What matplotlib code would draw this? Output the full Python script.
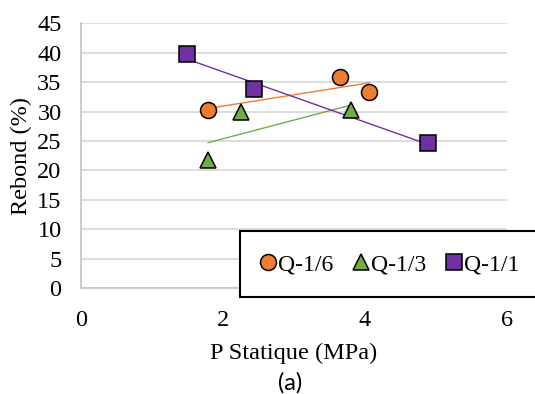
import matplotlib
matplotlib.use("Agg")
import matplotlib.pyplot as plt
import numpy as np
from matplotlib.patches import Rectangle

# données
x_16 = [1.79, 3.65, 4.06]
y_16 = [30.2, 35.9, 33.4]
x_13 = [1.79, 2.26, 3.80]
y_13 = [21.8, 30.0, 30.2]
x_11 = [1.49, 2.44, 4.89]
y_11 = [39.7, 33.8, 24.7]

labels = ['Q-1/6', 'Q-1/3', 'Q-1/1']
couleurs = ['#ED7D31', '#70AD47', '#7030A0']
marqueurs = ['o', '^', 's']
tailles = [11.5, 11.5, 11]

xticks = [0, 2, 4, 6]
yticks = list(range(0, 50, 5))

plt.rcParams['font.family'] = ['Liberation Serif', 'DejaVu Serif']

fig = plt.figure(figsize=(5.35, 3.94), dpi=100)
ax = fig.add_axes([81/535, 1-288/394, 426/535, (288-23.3)/394])

series = [(x_16, y_16), (x_13, y_13), (x_11, y_11)]
handles = []
for (xs, ys), lab, c, m, s in zip(series, labels, couleurs, marqueurs, tailles):
    h, = ax.plot(xs, ys, linestyle='none', marker=m, markersize=s,
                 markerfacecolor=c, markeredgecolor='black', markeredgewidth=1.1,
                 label=lab, zorder=4)
    handles.append(h)
    # courbe de tendance linéaire
    a, b = np.polyfit(xs, ys, 1)
    xx = np.array([min(xs), max(xs)])
    ax.plot(xx, a*xx + b, color=c, lw=1.0, zorder=3)

ax.set_xlim(0, 6)
ax.set_ylim(0, 45)
ax.set_xticks(xticks)
ax.set_yticks(yticks)
ax.tick_params(length=0, labelsize=17.5)
ax.tick_params(axis='y', pad=14)
ax.tick_params(axis='x', pad=16)
ax.grid(axis='y', color='#D9D9D9', lw=1.3)
ax.set_axisbelow(True)
for sp in ['top', 'right']:
    ax.spines[sp].set_visible(False)
for sp in ['left', 'bottom']:
    ax.spines[sp].set_color('#C8C8C8')
    ax.spines[sp].set_linewidth(1.3)

ax.set_xlabel('P Statique (MPa)', fontsize=17.5)
ax.set_ylabel('Rebond (%)', fontsize=17.5)
ax.xaxis.set_label_coords(0.5, -0.246)
ax.xaxis.label.set_va('center')
ax.yaxis.set_label_coords(-0.14, 0.5)
ax.yaxis.label.set_va('center')

# cadre de la légende
fig.patches.append(Rectangle((240/535, 1-297/394), 0.6, 66/394,
                             transform=fig.transFigure, facecolor='white',
                             edgecolor='black', lw=1.5, zorder=5))
leg = fig.legend(handles=handles, loc='center left', ncol=3, frameon=False,
                 bbox_to_anchor=(250/535, 1-265/394), fontsize=17,
                 handlelength=0.7, handletextpad=0.1, columnspacing=0.8,
                 borderaxespad=0)
leg.set_zorder(6)

fig.text(290/535, 1-383/394, '(a)', fontsize=17, family=['Lato', 'DejaVu Sans'],
         ha='center', va='center')

fig.savefig('out.png', dpi=100)
